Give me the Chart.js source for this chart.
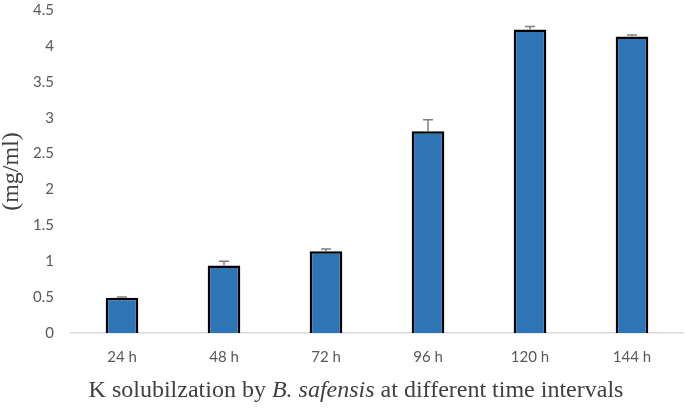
<!DOCTYPE html>
<html>
<head>
<meta charset="utf-8">
<script src="https://cdn.jsdelivr.net/npm/chart.js@4"></script>
<style>
  html, body { margin: 0; padding: 0; background: #fff; }
  #wrap { width: 685px; height: 408px; }
</style>
</head>
<body>
<div id="wrap"><canvas id="chart"></canvas></div>
<script>
const labels = ['24 h', '48 h', '72 h', '96 h', '120 h', '144 h'];
const values = [0.49, 0.94, 1.14, 2.81, 4.23, 4.13];
const errors = [0.01, 0.06, 0.03, 0.16, 0.04, 0.02];
const y_title = '(mg/ml)';
const x_title_parts = [
  ['K solubilzation by ', 'normal'],
  ['B. safensis', 'italic'],
  [' at different time intervals', 'normal']
];

const SERIF = '"Liberation Serif", "DejaVu Serif", serif';
const SANS = 'Lato, "Open Sans", sans-serif';
const TITLE_SIZE = 24;

// error bars drawn on top of the bars
const error_bars = {
  id: 'error_bars',
  afterDatasetsDraw(chart) {
    const ctx = chart.ctx;
    const meta = chart.getDatasetMeta(0);
    const y = chart.scales.y;
    ctx.save();
    ctx.strokeStyle = '#7f7f7f';
    ctx.lineWidth = 1.5;
    meta.data.forEach((bar, i) => {
      const top = y.getPixelForValue(values[i] + errors[i]);
      const base = y.getPixelForValue(values[i]);
      ctx.beginPath();
      ctx.moveTo(bar.x, base);
      ctx.lineTo(bar.x, top);
      ctx.moveTo(bar.x - 5, top);
      ctx.lineTo(bar.x + 5, top);
      ctx.stroke();
    });
    ctx.restore();
  }
};

// x title with the italic species name, centred on the whole canvas
const x_title = {
  id: 'x_title',
  afterDraw(chart) {
    const ctx = chart.ctx;
    ctx.save();
    ctx.fillStyle = '#404040';
    ctx.textBaseline = 'alphabetic';
    let total = 0;
    x_title_parts.forEach(p => {
      ctx.font = p[1] + ' ' + TITLE_SIZE + 'px ' + SERIF;
      total += ctx.measureText(p[0]).width;
    });
    let x = 356 - total / 2;
    x_title_parts.forEach(p => {
      ctx.font = p[1] + ' ' + TITLE_SIZE + 'px ' + SERIF;
      ctx.fillText(p[0], x, 397);
      x += ctx.measureText(p[0]).width;
    });
    ctx.restore();
  }
};

new Chart(document.getElementById('chart'), {
  type: 'bar',
  data: {
    labels: labels,
    datasets: [{
      data: values,
      backgroundColor: '#2e75b6',
      borderColor: '#000000',
      borderWidth: 2.5,
      categoryPercentage: 1.0,
      barPercentage: 0.32
    }]
  },
  options: {
    responsive: true,
    maintainAspectRatio: false,
    animation: false,
    layout: { padding: { top: 10, right: 2, left: 0, bottom: 0 } },
    plugins: {
      legend: { display: false },
      tooltip: { enabled: false }
    },
    scales: {
      x: {
        grid: { display: false, drawTicks: false },
        border: { display: true, color: '#d9d9d9', width: 1.5 },
        ticks: {
          color: '#595959',
          font: { family: SANS, size: 15 },
          padding: 15
        },
        afterFit(scale) { scale.height = 75; }
      },
      y: {
        min: 0,
        max: 4.5,
        grid: { display: false, drawTicks: false },
        border: { display: false },
        ticks: {
          stepSize: 0.5,
          color: '#595959',
          font: { family: SANS, size: 15 },
          padding: 17,
          callback: v => v
        },
        title: {
          display: true,
          text: y_title,
          color: '#404040',
          font: { family: SERIF, size: TITLE_SIZE },
          padding: { top: -3, bottom: 0 }
        },
        afterFit(scale) {
          scale.width = 71;
          scale.paddingTop = 0;
          scale.paddingBottom = 0;
        }
      }
    }
  },
  plugins: [error_bars, x_title]
});
</script>
</body>
</html>
